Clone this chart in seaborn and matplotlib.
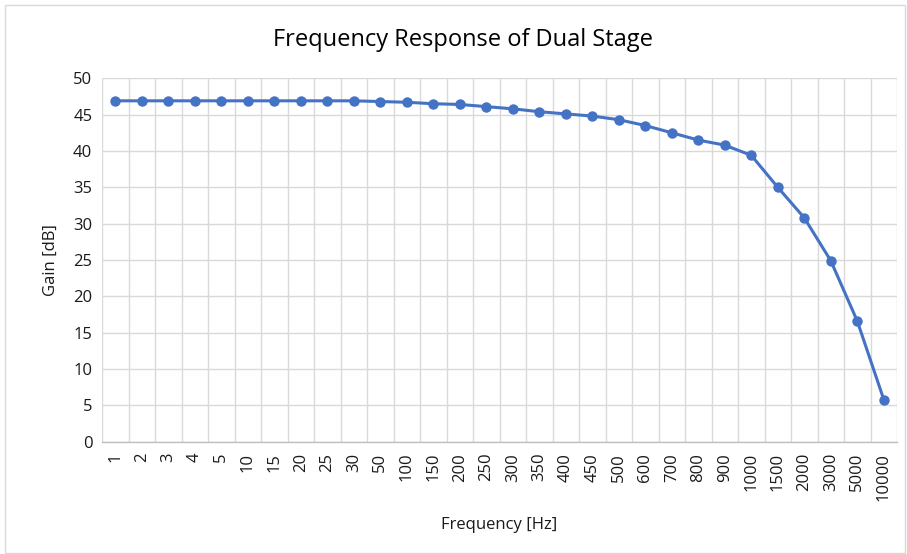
import matplotlib
matplotlib.use("Agg")
import matplotlib.pyplot as plt
from matplotlib.patches import Rectangle
from matplotlib.ticker import FixedLocator
import seaborn as sns
import pandas as pd

# Measured gain of the two-stage amplifier at each test frequency
frequencies = ["1", "2", "3", "4", "5", "10", "15", "20", "25", "30", "50",
               "100", "150", "200", "250", "300", "350", "400", "450", "500",
               "600", "700", "800", "900", "1000", "1500", "2000", "3000",
               "5000", "10000"]
gain_db = [46.9, 46.9, 46.9, 46.9, 46.9, 46.9, 46.9, 46.9, 46.9, 46.9, 46.8,
           46.7, 46.5, 46.4, 46.1, 45.8, 45.4, 45.1, 44.8, 44.3,
           43.5, 42.5, 41.5, 40.8, 39.4, 35.0, 30.8, 24.9,
           16.6, 5.8]
y_ticks = [0, 5, 10, 15, 20, 25, 30, 35, 40, 45, 50]

df = pd.DataFrame({"Frequency": frequencies, "Gain": gain_db})

sns.set_style("white")
plt.rcParams["font.family"] = ["Open Sans", "DejaVu Sans"]

fig = plt.figure(figsize=(9.07, 5.54), dpi=100)
ax = fig.add_axes([0.1125, 0.2027, 0.8765, 0.656])

text_color = "#1a1a1a"
line_color = "#4472C4"
sns.lineplot(data=df, x="Frequency", y="Gain", sort=False, ax=ax,
             color=line_color, linewidth=2.2, marker="o", markersize=7.5,
             markeredgecolor=line_color, markeredgewidth=0, zorder=3)

n = len(frequencies)
ax.set_xlim(-0.5, n - 0.5)
ax.set_ylim(0, 50)
ax.set_yticks(y_ticks)
ax.set_xticks(range(n))
ax.set_xticklabels(frequencies, rotation=90, fontsize=12, color=text_color)
ax.tick_params(axis="y", labelsize=12, labelcolor=text_color, length=0, pad=7)
ax.tick_params(axis="x", length=0, pad=8)

# Excel-style grid: horizontal at major ticks, vertical between categories
ax.xaxis.set_minor_locator(FixedLocator([i - 0.5 for i in range(n + 1)]))
ax.grid(axis="y", which="major", color="#d9d9d9", linewidth=1.0, zorder=0)
ax.grid(axis="x", which="minor", color="#d9d9d9", linewidth=1.0, zorder=0)
ax.grid(axis="x", which="major", visible=False)
ax.tick_params(axis="x", which="minor", length=0)

for side in ["top", "right", "left"]:
    ax.spines[side].set_visible(False)
ax.spines["bottom"].set_color("#bfbfbf")
ax.spines["bottom"].set_linewidth(1.0)

ax.set_xlabel("Frequency [Hz]", fontsize=12, color=text_color, labelpad=12)
ax.set_ylabel("Gain [dB]", fontsize=12, color=text_color, labelpad=10)

# Chart title centred over the whole chart area
fig.text(463 / 907, 1 - 40 / 554, "Frequency Response of Dual Stage",
         fontsize=17, color="#000000", ha="center", va="center")

# Chart area border
fig.patches.append(Rectangle((5 / 907, 1 / 554), 900 / 907, 548 / 554,
                             transform=fig.transFigure, fill=False,
                             edgecolor="#d9d9d9", linewidth=1.0))

fig.savefig("out.png", dpi=100, facecolor="white")
